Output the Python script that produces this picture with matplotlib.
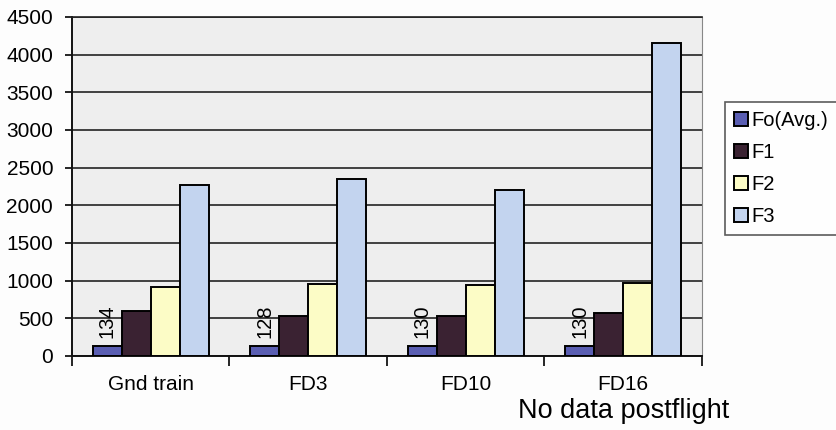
import numpy as np
import matplotlib.pyplot as plt

plt.rcParams['font.family'] = ['Liberation Sans', 'DejaVu Sans']

# data
groups = ['Gnd train', 'FD3', 'FD10', 'FD16']
series = ['Fo(Avg.)', 'F1', 'F2', 'F3']
fo_avg = [134, 128, 130, 130]
f1 = [595, 530, 530, 565]
f2 = [912, 955, 942, 972]
f3 = [2265, 2345, 2210, 4160]
colors = ['#5a5eb2', '#3a2232', '#fcfcc6', '#c3d4ef']

values = [fo_avg, f1, f2, f3]

fig = plt.figure(figsize=(8.36, 4.30), dpi=100, facecolor='#fdfdfd')
ax = fig.add_axes([0.0861, 0.1721, 0.7536, 0.7884])
ax.set_facecolor('#eeeeee')

x = np.arange(len(groups))
w = 0.184
for i, (name, vals) in enumerate(zip(series, values)):
    ax.bar(x + (i - 1.5) * w, vals, width=w, color=colors[i],
           edgecolor='black', linewidth=1.4, label=name, zorder=3)

# value labels over the Fo bars
for xi, v in zip(x, fo_avg):
    ax.text(xi - 1.5 * w, v + 110, str(v), rotation=90, ha='center',
            va='bottom', fontsize=14.5, zorder=4)

ax.set_xlim(-0.5, len(groups) - 0.5)
ax.set_ylim(0, 4500)
ax.set_yticks(np.arange(0, 4501, 500))
ax.yaxis.grid(True, color='#222222', linewidth=1.2, zorder=1)
ax.set_axisbelow(True)

ax.set_xticks(x)
ax.set_xticklabels(groups, fontsize=15)
ax.tick_params(axis='x', length=0, pad=14)
ax.set_xticks(np.arange(-0.5, len(groups), 1), minor=True)
ax.tick_params(axis='x', which='minor', length=7, width=1.2, direction='out')
ax.tick_params(axis='y', labelsize=15, length=5, width=1.2, pad=8.5)

for s in ['left', 'bottom']:
    ax.spines[s].set_linewidth(1.4)
    ax.spines[s].set_color('#111111')
ax.spines['top'].set_linewidth(1.2)
ax.spines['top'].set_color('#222222')
ax.spines['right'].set_color('#888888')

leg = ax.legend(loc='upper left', bbox_to_anchor=(725 / 836, 1 - 102 / 430),
                bbox_transform=fig.transFigure, fontsize=14.5, frameon=True,
                fancybox=False, edgecolor='#333333', handlelength=0.7,
                handleheight=0.7, handletextpad=0.15, labelspacing=0.65,
                borderpad=0.45, borderaxespad=0)
leg.get_frame().set_linewidth(1.2)
leg.get_frame().set_facecolor('white')

fig.text(624 / 836, 1 - 418 / 430, 'No data postflight', ha='center',
         va='baseline', fontsize=19.5)

fig.savefig('out.png', dpi=100, facecolor=fig.get_facecolor())
